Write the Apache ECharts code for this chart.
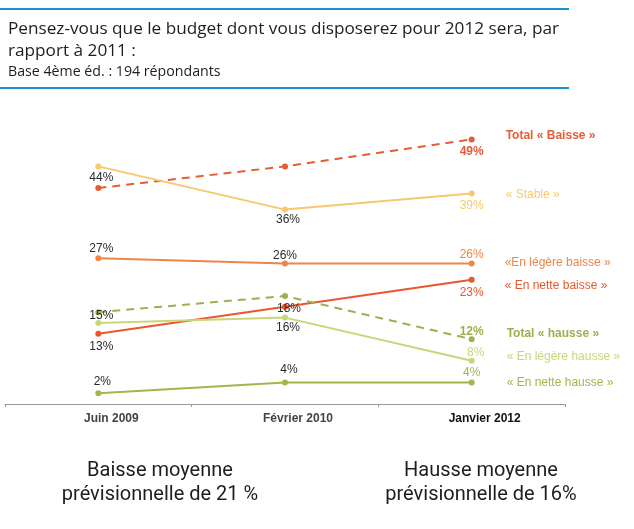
<!DOCTYPE html>
<html>
<head>
<meta charset="utf-8">
<script src="https://cdn.jsdelivr.net/npm/echarts@6/dist/echarts.min.js"></script>
<style>
html,body{margin:0;padding:0;background:#fff;}
#chart{width:634px;height:529px;}
</style>
</head>
<body>
<div id="chart"></div>
<script>
// ---- data ----
var categories = ['Juin 2009', 'Février 2010', 'Janvier 2012'];
var totalBaisse = [40, 44, 49];
var stable = [44, 36, 39];
var legereBaisse = [27, 26, 26];
var netteBaisse = [13, 18, 23];
var totalHausse = [17, 20, 12];
var legereHausse = [15, 16, 8];
var netteHausse = [2, 4, 4];
var seriesNames = ['Total « Baisse »', '« Stable »', '«En légère baisse »', '« En nette baisse »',
  'Total « hausse »', '« En légère hausse »', '« En nette hausse »'];
var titleLines = ['Pensez-vous que le budget dont vous disposerez pour 2012 sera, par', 'rapport à 2011 :'];
var subtitle = 'Base 4ème éd. : 194 répondants';
var noteLeft = ['Baisse moyenne', 'prévisionnelle de 21 %'];
var noteRight = ['Hausse moyenne', 'prévisionnelle de 16%'];

// ---- styling / placement (not data) ----
var seriesDefs = [
  {values: totalBaisse, color: '#e65c37', dashed: true, bold: true, show: [false, false, true],
   off: [null, null, [0, 12]], endOff: [26, -4]},
  {values: stable, color: '#f6c96f', dashed: false, show: [true, true, true],
   off: [[3, 11], [3, 10], [0, 12]], endOff: [26, 1]},
  {values: legereBaisse, color: '#ee8549', dashed: false, show: [true, true, true],
   off: [[3, -10], [0, -8], [0, -9]], endOff: [25, -1]},
  {values: netteBaisse, color: '#e9572c', dashed: false, show: [true, true, true],
   off: [[3, 13], [4, 2], [0, 13]], endOff: [25, 6]},
  {values: totalHausse, color: '#a4ad4b', dashed: true, bold: true, show: [false, false, true],
   off: [null, null, [0, -8]], endOff: [27, -6]},
  {values: legereHausse, color: '#c8d67a', dashed: false, show: [true, true, true],
   off: [[3, -7], [3, 10], [4, -8]], endOff: [27, -4]},
  {values: netteHausse, color: '#a6b44b', dashed: false, show: [true, true, true],
   off: [[4, -12], [4, -13], [0, -10]], endOff: [27, 0]}
];

var SYM = 6;
var series = seriesDefs.map(function (d, si) {
  var data = d.values.map(function (v, i) {
    var last = i === d.values.length - 1;
    var item = {value: v};
    if (d.show[i]) {
      item.label = {
        show: true,
        position: [SYM / 2 + d.off[i][0], SYM / 2 + d.off[i][1]],
        align: 'center',
        verticalAlign: 'middle',
        color: last ? d.color : '#2b2b2b',
        fontWeight: (last && d.bold) ? 'bold' : 'normal',
        fontSize: 12,
        fontFamily: 'Liberation Sans, Arial, sans-serif',
        formatter: '{c}%'
      };
    } else {
      item.label = {show: false};
    }
    return item;
  });
  return {
    name: seriesNames[si],
    type: 'line',
    data: data,
    symbol: 'circle',
    symbolSize: SYM,
    itemStyle: {color: d.color},
    lineStyle: {color: d.color, width: 2, type: d.dashed ? [8, 6] : 'solid'},
    emphasis: {disabled: true},
    endLabel: {
      show: true,
      formatter: '{a}',
      offset: d.endOff,
      color: d.color,
      fontSize: 12,
      fontWeight: d.bold ? 'bold' : 'normal',
      fontFamily: 'Liberation Sans, Arial, sans-serif'
    },
    z: 2
  };
});

var titleFont = '"Open Sans", sans-serif';
var noteFont = 'Roboto, sans-serif';
var graphic = [
  {type: 'line', shape: {x1: 0, y1: 9, x2: 569, y2: 9}, style: {stroke: '#1b8fd0', lineWidth: 2}},
  {type: 'line', shape: {x1: 0, y1: 88, x2: 569, y2: 88}, style: {stroke: '#1b8fd0', lineWidth: 2}},
  {type: 'text', x: 8, y: 29, style: {text: titleLines[0], font: '17.2px ' + titleFont, fill: '#1e1e1e', verticalAlign: 'middle'}},
  {type: 'text', x: 8, y: 51, style: {text: titleLines[1], font: '17.2px ' + titleFont, fill: '#1e1e1e', verticalAlign: 'middle'}},
  {type: 'text', x: 8, y: 72, style: {text: subtitle, font: '14.2px ' + titleFont, fill: '#1e1e1e', verticalAlign: 'middle'}},
  {type: 'text', x: 160, y: 471, style: {text: noteLeft[0], font: '20px ' + noteFont, fill: '#1e1e1e', align: 'center', verticalAlign: 'middle'}},
  {type: 'text', x: 160, y: 495, style: {text: noteLeft[1], font: '20px ' + noteFont, fill: '#1e1e1e', align: 'center', verticalAlign: 'middle'}},
  {type: 'text', x: 481, y: 471, style: {text: noteRight[0], font: '20px ' + noteFont, fill: '#1e1e1e', align: 'center', verticalAlign: 'middle'}},
  {type: 'text', x: 481, y: 495, style: {text: noteRight[1], font: '20px ' + noteFont, fill: '#1e1e1e', align: 'center', verticalAlign: 'middle'}}
];

var chart = echarts.init(document.getElementById('chart'), null, {renderer: 'canvas'});
chart.setOption({
  animation: false,
  backgroundColor: '#ffffff',
  grid: {left: 5, right: 69, top: 80, bottom: 125, containLabel: false},
  xAxis: {
    type: 'category',
    data: categories,
    boundaryGap: true,
    axisLine: {show: true, lineStyle: {color: '#9a9a9a', width: 1}},
    axisTick: {show: true, length: 3, lineStyle: {color: '#9a9a9a'}},
    axisLabel: {
      margin: 9,
      fontSize: 12,
      fontFamily: 'Liberation Sans, Arial, sans-serif',
      fontWeight: 'bold',
      padding: [0, 0, 0, 26],
      color: function (v, i) { return i === categories.length - 1 ? '#111111' : '#444444'; }
    },
    splitLine: {show: false}
  },
  yAxis: {
    type: 'value', min: 0, max: 60, show: false,
    splitLine: {show: false}
  },
  series: series,
  graphic: graphic
});
</script>
</body>
</html>
